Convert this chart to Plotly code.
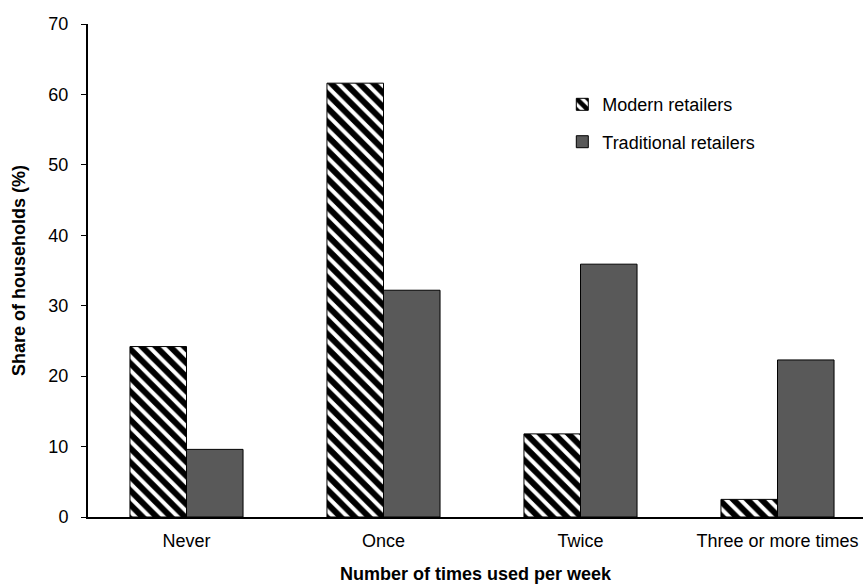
import plotly.graph_objects as go

categories = ["Never", "Once", "Twice", "Three or more times"]
modern = [24.2, 61.6, 11.8, 2.5]
traditional = [9.6, 32.2, 35.9, 22.3]
y_ticks = [0, 10, 20, 30, 40, 50, 60, 70]

font_family = "Liberation Sans, Arial, sans-serif"

fig = go.Figure()
fig.add_trace(go.Bar(
    x=categories, y=modern, name="Modern retailers", legendgroup="m",
    marker=dict(color="white", line=dict(color="black", width=1),
                pattern=dict(shape="\\", fgcolor="black", bgcolor="white",
                             fgopacity=1, size=10, solidity=0.6)),
))
fig.add_trace(go.Bar(
    x=categories, y=traditional, name="Traditional retailers", legendgroup="t",
    marker=dict(color="#595959", line=dict(color="black", width=1)),
))

fig.update_layout(
    width=863, height=584,
    margin=dict(l=88, r=0, t=24, b=67),
    paper_bgcolor="white", plot_bgcolor="white",
    barmode="group", bargap=0.426, bargroupgap=0,
    font=dict(family=font_family, size=18, color="black"),
    showlegend=True,
    legend=dict(x=0.612, y=0.874, xanchor="left", yanchor="top",
                bgcolor="rgba(0,0,0,0)", font=dict(size=18),
                itemwidth=30, tracegroupgap=11),
    xaxis=dict(
        range=[-0.5, 3.434], showline=True, linecolor="black", linewidth=2,
        ticks="", showgrid=False, zeroline=False, automargin=False,
        ticklabelstandoff=6,
        title=dict(text="<b>Number of times used per week</b>", font=dict(size=18), standoff=18),
        tickfont=dict(size=18),
    ),
    yaxis=dict(
        range=[0, 70], tickvals=y_ticks, showline=True, linecolor="black", linewidth=2,
        ticks="outside", ticklen=5, tickwidth=1, tickcolor="black",
        showgrid=False, zeroline=False, automargin=False,
        ticklabelstandoff=9,
        title=dict(text="<b>Share of households (%)</b>", font=dict(size=18), standoff=18),
        tickfont=dict(size=18),
    ),
)

fig.write_html("out.html", config={"displayModeBar": False},
               post_script="document.body.style.margin='0';document.body.style.overflow='hidden';")
